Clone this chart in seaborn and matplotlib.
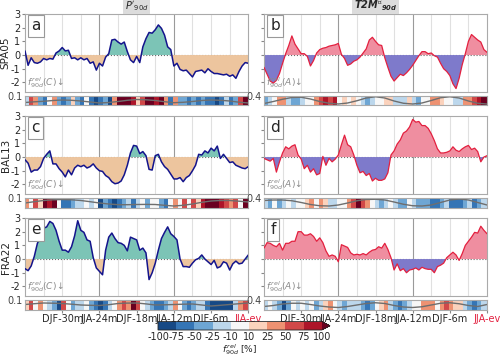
import matplotlib
matplotlib.use("Agg")
import matplotlib.pyplot as plt
import numpy as np
import seaborn as sns
from matplotlib.cm import ScalarMappable
from matplotlib.colors import BoundaryNorm, ListedColormap

# time axis: months before the JJA event (0 = JJA-ev)
months = np.arange(-36, 0.01, 0.5)
strip_edges = np.linspace(-36, 0, 49)
sd_months = np.arange(-36, 0.01, 1.5)

tick_months = [-30, -24, -18, -12, -6, 0]
tick_labels = ["DJF-30m", "JJA-24m", "DJF-18m", "JJA-12m", "DJF-6m", "JJA-ev"]
regions = ["SPA05", "BAL13", "FRA22"]
panel_letters = [["a", "b"], ["c", "d"], ["e", "f"]]

# standardised 90-day anomalies
p_spa05 = [0.3, -0.75, -0.2, -0.55, -0.6, -0.5, -0.25, -0.35, -0.25, -0.3,
           0.15, 0.3, 0.55, 0.3, 0.35, -0.25, -0.2, -0.35, -0.2, -0.35,
           -0.25, -0.6, -0.5, -1.1, -0.6, -0.8, -0.15, 0.1, 1.1, 1.15,
           0.95, 0.8, 0.95, 0.25, -0.35, -0.55, -0.1, -0.55, 0.6, 1.2,
           1.65, 1.6, 1.85, 2.2, 1.95, 1.45, 0.6, 0.4, -0.8, -0.6,
           -1.05, -1.15, -1.1, -1.35, -1.6, -1.2, -1.15, -1.1, -1.3, -1.0,
           -1.2, -1.35, -1.35, -1.4, -1.45, -1.4, -1.55, -1.45, -1.7, -1.2,
           -0.8, -0.55, -0.6]
t2m_spa05 = [-0.9, -1.4, -1.9, -2.05, -1.85, -1.35, -0.6, 0.1, 0.7, 1.4,
             0.8, 0.45, 0.1, 0.1, -0.1, -0.8, -0.4, 0.15, 0.4, 0.5,
             0.55, 0.65, 0.7, 0.75, 0.85, 0.05, -0.25, -0.75, -0.65, -0.45,
             -0.35, -0.15, 0.15, 0.45, 1.1, 1.3, 1.0, 0.75, 0.7, -0.2,
             -0.9, -1.55, -1.9, -1.65, -1.4, -1.5, -1.3, -1.05, -0.75, -0.4,
             -0.05, 0.25, 0.25, 0.1, 0.15, -0.05, -0.15, -0.6, -1.0, -1.2,
             -1.5, -2.1, -2.45, -1.7, -0.7, 0.1, 1.0, 1.5, 1.3, 1.1,
             0.95, 0.4, 0.2]
p_bal13 = [-0.2, -0.45, -1.1, -0.95, -0.95, -0.7, -0.1, 0.2, 0.45, -0.5,
           -0.5, -0.85, -1.1, -1.45, -0.95, -1.3, -0.8, -0.6, -0.7, -0.6,
           -0.8, -0.7, -0.5, -0.8, -1.0, -1.05, -1.35, -1.5, -1.8, -1.95,
           -1.9, -1.75, -1.3, -0.6, 0.3, 0.85, 0.8, 0.25, 0.4, 0.1,
           -0.9, -0.95, 0.1, 0.2, -0.35, -0.7, -0.9, -1.25, -1.6, -1.6,
           -1.5, -1.8, -1.5, -1.35, -1.0, -0.6, 0.2, 0.15, 0.45, 0.3,
           0.65, 0.45, 0.8, -0.1, 0.2, -0.1, -0.4, -0.35, -0.6, -0.7,
           -0.8, -0.85, -0.7]
t2m_bal13 = [-0.1, -0.2, -0.3, -0.1, -1.1, -0.35, 0.3, 0.75, 0.6, 0.8,
             0.9, 0.15, -0.15, -0.85, -0.6, -1.1, -0.85, -1.3, -1.2, 0.05,
             -0.6, -0.1, -0.35, -0.15, 0.15, 0.9, 1.6, 0.9, 0.75, 0.15,
             -0.6, -1.15, -1.05, -1.35, -1.2, -1.75, -1.55, -1.7, -1.7, -1.6,
             -1.15, 0.15, 0.45, 0.95, 1.25, 1.75, 1.9, 2.2, 2.75, 2.55,
             2.6, 2.3, 2.3, 2.1, 1.7, 1.2, 0.6, 0.3, 0.3, 0.35,
             0.45, 0.75, 0.5, 0.4, 0.6, 0.75, 0.85, 0.55, 0.65, 0.4,
             -0.35, 0.0, 0.1]
p_fra22 = [-0.7, -0.85, -0.5, 0.2, 1.15, 1.6, 2.25, 2.35, 2.75, 2.6,
           2.1, 1.3, 0.65, 0.65, 0.5, 0.9, 1.7, 2.8, 2.1, 1.95,
           1.4, 1.3, 0.1, -0.65, -0.9, -1.15, 0.65, 1.6, 1.9, 1.5,
           1.2, 1.15, 1.0, 0.6, 1.6, 1.5, 1.4, 0.65, 0.8, 0.45,
           -1.5, -1.0, -0.3, 0.65, 1.5, 1.95, 2.35, 1.85, 1.65, 1.4,
           0.0, -0.55, -0.55, -0.6, -0.3, -0.05, 0.05, 0.3, 0.0, -0.2,
           -0.4, -0.1, -0.65, -0.55, -0.2, -0.3, -0.8, -0.35, -0.15, -0.35,
           -0.3, 0.0, 0.3]
t2m_fra22 = [0.8, 1.2, 1.15, 1.0, 0.9, 1.15, 0.65, 1.15, 1.15, 1.3,
             1.3, 2.0, 2.0, 1.75, 1.75, 1.85, 1.65, 1.3, 1.55, 1.2,
             0.6, 0.2, 0.3, 0.2, -0.2, 1.05, 0.95, 0.85, 0.45, 0.3,
             0.35, 0.3, 0.4, 0.3, 0.5, 0.65, 0.7, 0.9, 0.8, 1.15,
             0.7, 0.1, -0.8, -0.35, -0.85, -0.7, -1.0, -0.8, -0.75, -0.65,
             -0.8, -0.6, -0.7, -0.75, -0.75, -1.0, -0.55, -0.45, -0.3, 0.1,
             0.3, 0.5, 0.3, -0.1, 0.4, 1.0, 1.3, 1.6, 1.95, 1.9,
             2.4, 2.1, 1.85]

# relative frequency f_rel_90d [%] (strips)
frel_a = [-15, 60, 30, -35, -55, 5, 40, -45, -65, -30,
          15, -30, -60, -5, -70, -85, -55, -30, -85, 45,
          110, 110, 110, 90, 20, 60, 110, 110, 80, 105,
          25, -55, 45, -30, -45, -60, -30, -60, -30, -55,
          -60, -85, -60, -20, -60, -35, 60, 110]
frel_b = [-50, -20, 5, 30, 35, -20, -50, -30, -15, 0,
          5, 40, 60, 90, 60, 90, 0, 20, 0, 15,
          5, -20, -30, -15, -5, 0, 20, 15, -20, -15,
          -25, 15, -20, -40, 0, 5, 40, 25, 15, 0,
          -5, -20, -15, 25, 40, 60, 90, 110]
frel_c = [40, 0, 50, 20, 110, 90, 110, -10, -55, -60,
          -50, -25, -15, 0, -20, -5, -85, -30, -55, -90,
          -60, -30, -20, -55, -15, -5, -30, 0, -5, -30,
          -55, 5, 40, 5, 60, 0, 50, 15, 90, 110,
          110, 110, 90, 60, 30, 70, 5, 110]
frel_d = [-20, -30, -10, -35, -15, 0, -15, 5, -5, 20,
          30, 0, 40, 10, -15, -25, 0, -5, 30, 55,
          110, 70, 40, 0, -25, -30, -20, -10, -15, -30,
          -30, -5, -25, -35, -30, -45, -55, -60, -40, -25,
          -75, -60, -55, -30, -25, -55, -40, -20]
frel_e = [15, 50, 5, 40, 0, -20, -50, -85, 50, 0,
          -45, -20, -15, 0, -30, -60, -85, -55, -20, -5,
          40, 60, 30, 110, 60, 0, -20, -35, -55, -60,
          -40, -20, 40, -10, -50, -60, -45, -20, -25, -60,
          -85, -90, -85, -90, -80, -25, 35, 55]
frel_f = [-20, -5, -15, -50, -80, -50, -10, -20, 0, -15,
          -5, -30, -20, 15, 25, 0, -20, -30, -15, -25,
          -20, -40, -55, -45, -10, 20, 30, -20, -50, -55,
          -45, -15, 0, 5, 30, 35, 25, -5, 40, 60,
          35, 20, 15, -20, -45, -55, -30, -15]

# grey reference curves drawn on the strips
sd_a = [0.03, 0.037, 0.042, 0.05, 0.055, 0.052, 0.045, 0.035, 0.025, 0.03,
        0.04, 0.052, 0.06, 0.057, 0.05, 0.038, 0.028, 0.032, 0.04, 0.05,
        0.055, 0.052, 0.045, 0.033, 0.025]
sd_c = [0.045, 0.058, 0.07, 0.077, 0.08, 0.077, 0.07, 0.058, 0.045, 0.035,
        0.028, 0.028, 0.03, 0.031, 0.03, 0.022, 0.015, 0.022, 0.035, 0.052,
        0.065, 0.07, 0.07, 0.063, 0.055]
sd_e = [0.05, 0.058, 0.065, 0.063, 0.06, 0.053, 0.045, 0.042, 0.04, 0.048,
        0.06, 0.064, 0.065, 0.056, 0.045, 0.047, 0.05, 0.053, 0.055, 0.045,
        0.035, 0.042, 0.05, 0.058, 0.065]
sd_b = [0.08, 0.16, 0.25, 0.32, 0.33, 0.26, 0.16, 0.09, 0.06, 0.1,
        0.19, 0.3, 0.35, 0.3, 0.18, 0.09, 0.06, 0.1, 0.2, 0.31,
        0.35, 0.3, 0.18, 0.09, 0.06]
sd_d = [0.28, 0.3, 0.3, 0.27, 0.2, 0.12, 0.07, 0.06, 0.1, 0.18,
        0.27, 0.32, 0.33, 0.3, 0.22, 0.13, 0.07, 0.06, 0.1, 0.2,
        0.3, 0.34, 0.3, 0.2, 0.1]
sd_f = [0.12, 0.16, 0.22, 0.25, 0.25, 0.2, 0.14, 0.1, 0.08, 0.12,
        0.18, 0.24, 0.27, 0.24, 0.16, 0.1, 0.08, 0.11, 0.18, 0.25,
        0.27, 0.23, 0.16, 0.12, 0.2]

frel_bounds = [-100, -75, -50, -25, -10, 10, 25, 50, 75, 100]
frel_colors = ["#174985", "#3575b5", "#6ea6d4", "#bcd7ec", "#f7f7f7",
               "#fbd2bc", "#ee9272", "#d14848", "#ad1529"]

series = [[p_spa05, t2m_spa05], [p_bal13, t2m_bal13], [p_fra22, t2m_fra22]]
strips = [[frel_a, frel_b], [frel_c, frel_d], [frel_e, frel_f]]
sd_lines = [[sd_a, sd_b], [sd_c, sd_d], [sd_e, sd_f]]

# column styles: (line, positive fill, negative fill, line width, strip top, f label)
col_style = [
    ("#14148c", "#7cc4b6", "#edc59e", 1.1, 0.1, r"$f^{\,rel}_{90d}(C)\!\downarrow$"),
    ("#e3203f", "#ef8ea0", "#7e7acb", 0.9, 0.4, r"$f^{\,rel}_{90d}(A)\!\downarrow$"),
]

sns.set_style("white")
plt.rcParams["font.family"] = ["DejaVu Sans"]
plt.rcParams["mathtext.fontset"] = "dejavusans"
plt.rcParams["axes.unicode_minus"] = False

W, H = 500, 358
fig = plt.figure(figsize=(W / 100, H / 100), dpi=100)


def box(x0, y0, x1, y1):
    return [x0 / W, 1 - y1 / H, (x1 - x0) / W, (y1 - y0) / H]


cmap = ListedColormap(frel_colors)
cmap.set_over("#6a0020")
norm = BoundaryNorm(frel_bounds, cmap.N)

col_x = [(25, 248.3), (264, 487)]
row_y = [(14, 92, 95.5, 105.5), (116, 194, 197.5, 207.5), (218, 296, 299.5, 309.5)]
spine_col = "#aaaaaa"

for r in range(3):
    for c in range(2):
        line_c, pos_c, neg_c, lw, stop, flabel = col_style[c]
        x0, x1 = col_x[c]
        ty, by, sy0, sy1 = row_y[r]
        vals = np.asarray(series[r][c])

        ax = fig.add_axes(box(x0, ty, x1, by))
        for m in np.arange(-33, 0, 3):
            ax.axvline(m, color="#9a9a9a" if m % 12 == 0 else "#e0e0e0",
                       lw=0.8, zorder=0)
        ax.axhline(0, color="#666666", lw=0.8, ls=":", zorder=1)
        ax.fill_between(months, vals, 0, where=vals >= 0, interpolate=True,
                        color=pos_c, lw=0, zorder=2)
        ax.fill_between(months, vals, 0, where=vals <= 0, interpolate=True,
                        color=neg_c, lw=0, zorder=2)
        sns.lineplot(x=months, y=vals, ax=ax, color=line_c, lw=lw,
                     estimator=None, zorder=3)
        ax.set_xlim(-36, 0)
        ax.set_ylim(-2.7, 3)
        ax.set_xticks([])
        ax.set_yticks([-2, -1, 0, 1, 2, 3])
        ax.tick_params(axis="y", labelsize=7, length=2, pad=1.5,
                       color="#888888", left=True)
        ax.set_xlabel("")
        if c == 0:
            ax.set_ylabel(regions[r], fontsize=7.5)
            ax.yaxis.set_label_coords(-0.064, 0.5)
        else:
            ax.set_yticklabels([])
            ax.set_ylabel("")
        for sp in ax.spines.values():
            sp.set_color(spine_col)
            sp.set_linewidth(0.8)
        ax.text(0.028, 0.945, panel_letters[r][c], transform=ax.transAxes,
                fontsize=11, ha="left", va="top", zorder=5,
                bbox=dict(boxstyle="square,pad=0.22", fc="white",
                          ec="#999999", lw=0.8))
        ax.text(0.01, 0.02, flabel, transform=ax.transAxes, fontsize=6.5,
                color="#8a8a8a", ha="left", va="bottom", zorder=5)

        sax = fig.add_axes(box(x0, sy0, x1, sy1))
        sax.pcolormesh(strip_edges, [0, stop], np.asarray([strips[r][c]]),
                       cmap=cmap, norm=norm, edgecolors="face", lw=0.3)
        sns.lineplot(x=sd_months, y=sd_lines[r][c], ax=sax, color="#6e6e6e",
                     lw=1.0, estimator=None)
        sax.set_xlim(-36, 0)
        sax.set_ylim(0, stop)
        sax.set_yticks([stop])
        sax.set_yticklabels([f"{stop:.1f}"])
        sax.tick_params(axis="y", labelsize=7, length=0, pad=1.5,
                        labelcolor="#444444")
        sax.set_xticks(tick_months)
        if r == 2:
            sax.set_xticklabels(tick_labels)
            sax.tick_params(axis="x", labelsize=7, length=2, pad=1.5,
                            color="#888888", bottom=True)
            sax.get_xticklabels()[-1].set_color("#e3203f")
        else:
            sax.set_xticklabels([])
            sax.tick_params(axis="x", length=0)
        sax.set_xlabel("")
        sax.set_ylabel("")
        for sp in sax.spines.values():
            sp.set_color(spine_col)
            sp.set_linewidth(0.8)

fig.text(136.6 / W, 1 - 6 / H, r"$P'_{90d}$", ha="center", va="center",
         fontsize=7, bbox=dict(fc="#dcdcdc", ec="none", pad=1))
fig.text(375.5 / W, 1 - 6 / H, r"$\mathbfit{T2M'}_{\mathbfit{90d}}$",
         ha="center", va="center", fontsize=7,
         bbox=dict(fc="#dcdcdc", ec="none", pad=1))

cax = fig.add_axes(box(158, 321.5, 330, 330))
cb = fig.colorbar(ScalarMappable(norm=norm, cmap=cmap), cax=cax,
                  orientation="horizontal", extend="max", ticks=frel_bounds)
cb.ax.tick_params(labelsize=7, length=0, pad=1.5)
cb.outline.set_linewidth(0.6)
cb.set_label(r"$f^{\,rel}_{90d}$ [%]", fontsize=6.5, labelpad=0)

fig.savefig("out.png", dpi=100)
